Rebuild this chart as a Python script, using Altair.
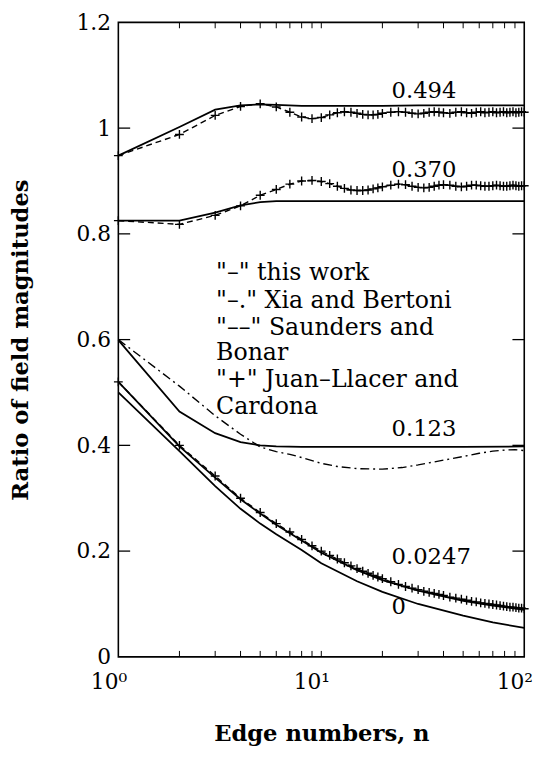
import altair as alt
import pandas as pd

FONT = "DejaVu Serif"
W, H = 412, 644

# ---------------- data ----------------
# "-" this work (solid)
solid_494_n = [1, 2, 3, 4, 5, 6, 8, 10, 15, 20, 30, 50, 70, 100]
solid_494_v = [0.948, 1.002, 1.035, 1.043, 1.045, 1.044, 1.042, 1.042, 1.042, 1.042, 1.043, 1.043, 1.043, 1.043]
solid_370_n = [1, 2, 3, 4, 5, 6, 8, 10, 20, 50, 100]
solid_370_v = [0.825, 0.825, 0.840, 0.854, 0.860, 0.862, 0.862, 0.862, 0.862, 0.862, 0.862]
solid_123_n = [1, 2, 3, 4, 5, 6, 8, 10, 20, 50, 100]
solid_123_v = [0.599, 0.464, 0.423, 0.406, 0.400, 0.398, 0.397, 0.397, 0.397, 0.397, 0.398]
solid_0247_n = [1, 2, 3, 4, 5, 6, 8, 10, 15, 20, 30, 50, 70, 100]
solid_0247_v = [0.520, 0.398, 0.339, 0.298, 0.271, 0.250, 0.220, 0.197, 0.164, 0.145, 0.125, 0.106, 0.097, 0.089]
solid_0_n = [1, 2, 3, 4, 5, 6, 8, 10, 15, 20, 30, 50, 70, 100]
solid_0_v = [0.500, 0.389, 0.323, 0.280, 0.252, 0.232, 0.202, 0.177, 0.143, 0.123, 0.100, 0.078, 0.065, 0.055]

# "-." Xia and Bertoni (dash-dot), curve 0.123
xia_n = [1, 2, 3, 4, 5, 6, 7, 8, 10, 12, 15, 20, 25, 30, 40, 50, 60, 70, 80, 90, 100]
xia_v = [0.600, 0.512, 0.456, 0.421, 0.397, 0.388, 0.383, 0.377, 0.366, 0.360, 0.356, 0.355, 0.358, 0.363,
         0.372, 0.379, 0.385, 0.389, 0.391, 0.392, 0.390]

# "+" Juan-Llacer and Cardona (markers) and "--" Saunders and Bonar (dashed)
plus_n = list(range(1, 21)) + list(range(22, 41, 2)) + list(range(43, 101, 3))
plus_494_v = [0.948, 0.988, 1.024, 1.041, 1.046, 1.040, 1.030, 1.021, 1.018, 1.020,
              1.025, 1.029, 1.031, 1.030, 1.028, 1.026, 1.025, 1.025, 1.026, 1.028,
              1.030, 1.031, 1.030, 1.028, 1.027, 1.028, 1.030, 1.031, 1.030, 1.029,
              1.028, 1.030, 1.031, 1.029, 1.028, 1.030, 1.031, 1.029, 1.030, 1.031,
              1.029, 1.030, 1.031, 1.029, 1.030, 1.031, 1.029, 1.030, 1.031, 1.030]
plus_370_v = [0.825, 0.818, 0.835, 0.853, 0.873, 0.884, 0.894, 0.900, 0.901, 0.899,
              0.895, 0.890, 0.886, 0.883, 0.882, 0.882, 0.883, 0.885, 0.887, 0.889,
              0.892, 0.894, 0.893, 0.890, 0.888, 0.887, 0.888, 0.890, 0.892, 0.893,
              0.892, 0.890, 0.889, 0.890, 0.892, 0.892, 0.891, 0.890, 0.890, 0.891,
              0.892, 0.891, 0.890, 0.890, 0.891, 0.892, 0.891, 0.890, 0.891, 0.891]
plus_0247_v = [0.520, 0.400, 0.342, 0.300, 0.273, 0.252, 0.236, 0.222, 0.210, 0.200,
               0.192, 0.185, 0.178, 0.172, 0.167, 0.162, 0.158, 0.154, 0.151, 0.148,
               0.142, 0.137, 0.133, 0.130, 0.127, 0.124, 0.122, 0.120, 0.118, 0.116,
               0.113, 0.111, 0.109, 0.107, 0.105, 0.104, 0.102, 0.101, 0.100, 0.099,
               0.098, 0.097, 0.096, 0.095, 0.094, 0.094, 0.093, 0.092, 0.092, 0.091]

# curve labels
curve_labels = ["0.494", "0.370", "0.123", "0.0247", "0"]
curve_label_n = [22.2, 22.2, 22.2, 22.2, 22.2]
curve_label_v = [1.070, 0.920, 0.430, 0.188, 0.094]

# in-plot legend text
legend_lines = ['"\u2013" this work', '"\u2013." Xia and Bertoni', '"\u2013\u2013" Saunders and',
                'Bonar', '"+" Juan\u2013Llacer and', 'Cardona']
legend_n = [3.03] * 6
legend_v = [0.725, 0.673, 0.622, 0.574, 0.524, 0.473]

# axes ticks
x_tick_values = [1, 10, 100]
x_tick_labels = ["10\u2070", "10\u00b9", "10\u00b2"]
x_minor_ticks = [2, 3, 4, 5, 6, 7, 8, 9, 10, 20, 30, 40, 50, 60, 70, 80, 90]
y_tick_values = [0, 0.2, 0.4, 0.6, 0.8, 1.0, 1.2]
y_tick_labels = ["0", "0.2", "0.4", "0.6", "0.8", "1", "1.2"]
y_inner_ticks = [0.2, 0.4, 0.6, 0.8, 1.0]

# ---------------- tables ----------------
def frame(n, v, name):
    return pd.DataFrame({"n": n, "v": v, "curve": name})

solid_df = pd.concat([
    frame(solid_494_n, solid_494_v, "0.494"),
    frame(solid_370_n, solid_370_v, "0.370"),
    frame(solid_123_n, solid_123_v, "0.123"),
    frame(solid_0247_n, solid_0247_v, "0.0247"),
    frame(solid_0_n, solid_0_v, "0"),
])
xia_df = frame(xia_n, xia_v, "0.123")
plus_df = pd.concat([
    frame(plus_n, plus_494_v, "0.494"),
    frame(plus_n, plus_370_v, "0.370"),
    frame(plus_n, plus_0247_v, "0.0247"),
])
clabel_df = pd.DataFrame({"n": curve_label_n, "v": curve_label_v, "t": curve_labels})
legend_df = pd.DataFrame({"n": legend_n, "v": legend_v, "t": legend_lines})
xminor_df = pd.DataFrame({"n": x_minor_ticks})
ytick_df = pd.DataFrame({"v": y_inner_ticks})

x_scale = alt.Scale(type="log", domain=[1, 100], nice=False)
y_scale = alt.Scale(domain=[0, 1.2], nice=False, zero=False)

x_label_expr = " : ".join(
    f"datum.value == {v} ? '{lab}'" for v, lab in zip(x_tick_values, x_tick_labels)
) + " : ''"
y_label_expr = " : ".join(
    f"round(datum.value * 10) == {round(v * 10)} ? '{lab}'" for v, lab in zip(y_tick_values, y_tick_labels)
) + " : ''"

x_axis = alt.Axis(
    values=x_tick_values, labelExpr=x_label_expr, ticks=False, domain=False, grid=False,
    labelFont=FONT, labelFontSize=22, labelColor="black", labelPadding=15, labelOffset=-10,
    labelFlush=False, labelOverlap=False,
    title="Edge numbers, n", titleFont=FONT, titleFontSize=23, titleFontWeight="bold",
    titleColor="black", titleY=67, titleX=W / 2, titleBaseline="top",
)
y_axis = alt.Axis(
    values=y_tick_values, labelExpr=y_label_expr, ticks=False, domain=False, grid=False,
    labelFont=FONT, labelFontSize=22, labelColor="black", labelPadding=8,
    labelFlush=False, labelOverlap=False,
    title="Ratio of field magnitudes", titleFont=FONT, titleFontSize=23, titleFontWeight="bold",
    titleColor="black", titleX=-87, titleY=H / 2,
)

X = alt.X("n:Q", scale=x_scale, axis=x_axis)
Y = alt.Y("v:Q", scale=y_scale, axis=y_axis)

base_solid = alt.Chart(solid_df).mark_line(color="black", strokeWidth=1.8).encode(
    x=X, y=Y, detail="curve:N",
)
dashed = alt.Chart(plus_df).mark_line(color="black", strokeWidth=1.4, strokeDash=[6, 4]).encode(
    x=X, y=Y, detail="curve:N"
)
dashdot = alt.Chart(xia_df).mark_line(color="black", strokeWidth=1.4, strokeDash=[9, 4, 2, 4]).encode(
    x=X, y=Y
)
plus = alt.Chart(plus_df).mark_point(
    shape="M-1,0L1,0M0,-1L0,1", filled=False, size=80, strokeWidth=1.4, color="black", opacity=1
).encode(x=X, y=Y)

clabels = alt.Chart(clabel_df).mark_text(
    font=FONT, fontSize=23, align="left", baseline="middle", color="black"
).encode(x=X, y=Y, text="t:N")
legend = alt.Chart(legend_df).mark_text(
    font=FONT, fontSize=24, align="left", baseline="middle", color="black"
).encode(x=X, y=Y, text="t:N")

tick_bottom = alt.Chart(xminor_df).mark_rule(color="black", strokeWidth=1).encode(
    x=X, y=alt.value(H), y2=alt.value(H - 6)
)
tick_top = alt.Chart(xminor_df).mark_rule(color="black", strokeWidth=1).encode(
    x=X, y=alt.value(0), y2=alt.value(6)
)
tick_left = alt.Chart(ytick_df).mark_rule(color="black", strokeWidth=1.3).encode(
    y=Y, x=alt.value(0), x2=alt.value(12)
)
tick_right = alt.Chart(ytick_df).mark_rule(color="black", strokeWidth=1.3).encode(
    y=Y, x=alt.value(W - 12), x2=alt.value(W)
)

chart = alt.layer(
    base_solid, dashed, dashdot, plus, clabels, legend,
    tick_bottom, tick_top, tick_left, tick_right,
).properties(
    width=W, height=H,
    padding={"left": 112, "top": 9, "right": 17, "bottom": 91},
    autosize=alt.AutoSizeParams(type="none"),
    background="white",
).configure_view(stroke="black", strokeWidth=1.6)

chart.save("out.html", embed_options={"renderer": "svg", "actions": False})
